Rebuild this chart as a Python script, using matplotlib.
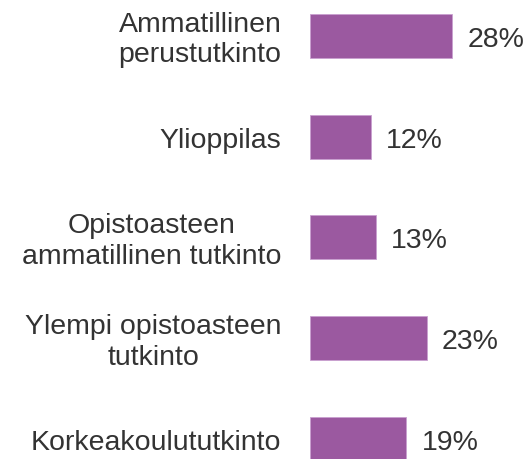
import matplotlib
matplotlib.use("Agg")
import matplotlib.pyplot as plt

# koulutustaso ja osuus (%)
labels = ["Ammatillinen\nperustutkinto", "Ylioppilas",
          "Opistoasteen\nammatillinen tutkinto",
          "Ylempi opistoasteen\ntutkinto", "Korkeakoulututkinto"]
values = [28, 12, 13, 23, 19]

plt.rcParams['font.family'] = ['Liberation Sans', 'DejaVu Sans']

fig = plt.figure(figsize=(5.29, 4.6), dpi=100)
ax = fig.add_axes([310/529, 0, 219/529, 1])

pos = list(range(len(values)))
ax.barh(pos, values, height=0.437, color="#9b59a0", edgecolor="#c9a0cf", linewidth=0.6)

for i, (lab, v) in enumerate(zip(labels, values)):
    ax.text(-5.6, i + 0.03, lab, ha="right", va="center", multialignment="center",
            fontsize=20.5, linespacing=1.24, color="#333333", clip_on=False)
    ax.text(v + 3, i + 0.03, f"{v}%", ha="left", va="center", fontsize=20.5, color="#333333")

ax.set_xlim(0, 43.2)
ax.set_ylim(4.2, -0.367)
ax.axis("off")

fig.savefig("out.png", dpi=100)
